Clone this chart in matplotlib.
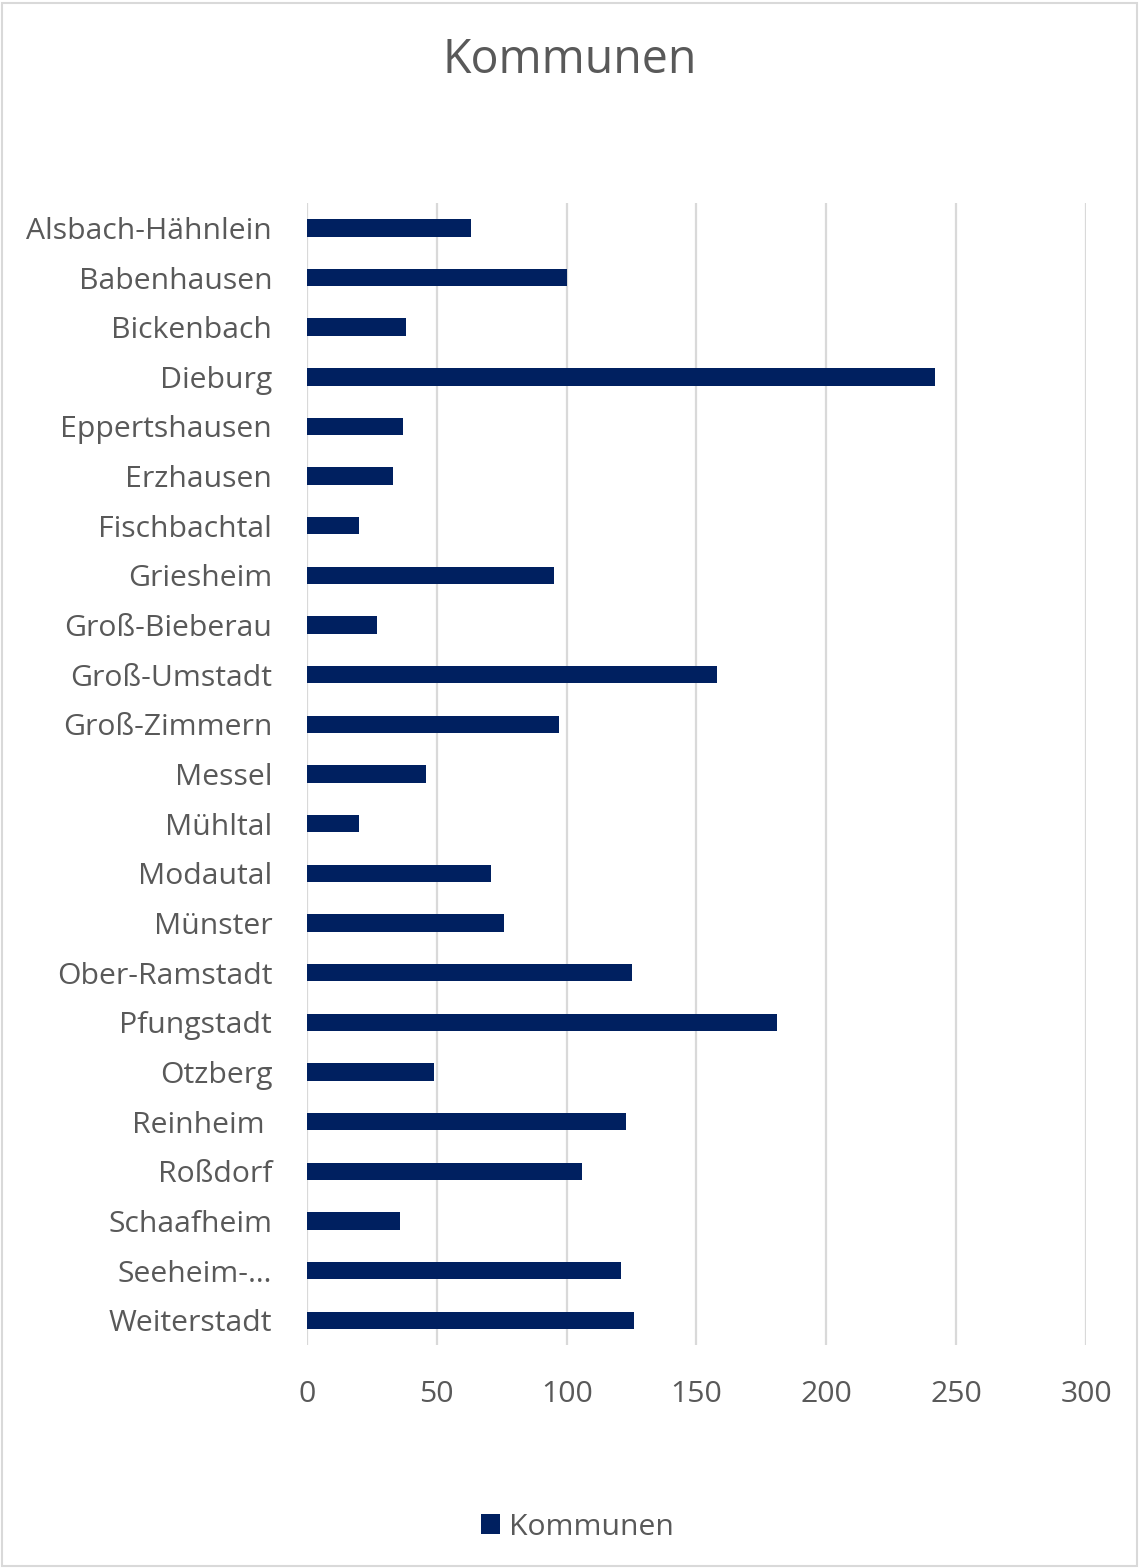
import matplotlib.pyplot as plt
from matplotlib.patches import Rectangle

plt.rcParams['font.family'] = ['Open Sans', 'DejaVu Sans']

kommunen = [
    "Alsbach-Hähnlein", "Babenhausen", "Bickenbach", "Dieburg", "Eppertshausen",
    "Erzhausen", "Fischbachtal", "Griesheim", "Groß-Bieberau", "Groß-Umstadt",
    "Groß-Zimmern", "Messel", "Mühltal", "Modautal", "Münster", "Ober-Ramstadt",
    "Pfungstadt", "Otzberg", "Reinheim ", "Roßdorf", "Schaafheim", "Seeheim-…",
    "Weiterstadt",
]
werte = [63, 100, 38, 242, 37, 33, 20, 95, 27, 158, 97, 46, 20, 71, 76, 125,
         181, 49, 123, 106, 36, 121, 126]
x_ticks = [0, 50, 100, 150, 200, 250, 300]

text_color = "#595959"
bar_color = "#002060"
grid_color = "#d9d9d9"

fig = plt.figure(figsize=(11.39, 15.68), dpi=100)
ax = fig.add_axes([0.2695, 0.1422, 0.684, 0.7283])

y = list(range(len(kommunen)))
ax.barh(y, werte, height=0.35, color=bar_color, label="Kommunen", zorder=3)

ax.set_xlim(0, 300)
ax.set_ylim(len(kommunen) - 0.5, -0.5)
ax.set_xticks(x_ticks)
ax.set_xticklabels([str(t) for t in x_ticks])
ax.set_yticks(y)
ax.set_yticklabels(kommunen)
ax.tick_params(axis="both", length=0, labelsize=21.7, colors=text_color)
ax.tick_params(axis="x", pad=25)
ax.tick_params(axis="y", pad=25)

ax.grid(axis="x", color=grid_color, linewidth=1.6, zorder=0)
for spine in ax.spines.values():
    spine.set_visible(False)

fig.text(0.5, 0.9615, "Kommunen", ha="center", va="center",
         fontsize=33.5, color=text_color)

leg = fig.legend(loc="center", bbox_to_anchor=(0.507, 0.026), frameon=False,
                 fontsize=21.7, handlelength=0.65, handleheight=0.65,
                 handletextpad=0.3, labelcolor=text_color)

# thin frame around the whole chart
fig.patches.append(Rectangle((0.002, 0.001), 0.996, 0.997, transform=fig.transFigure,
                             fill=False, edgecolor=grid_color, linewidth=1.5))

fig.savefig("out.png", dpi=100, facecolor="white")
